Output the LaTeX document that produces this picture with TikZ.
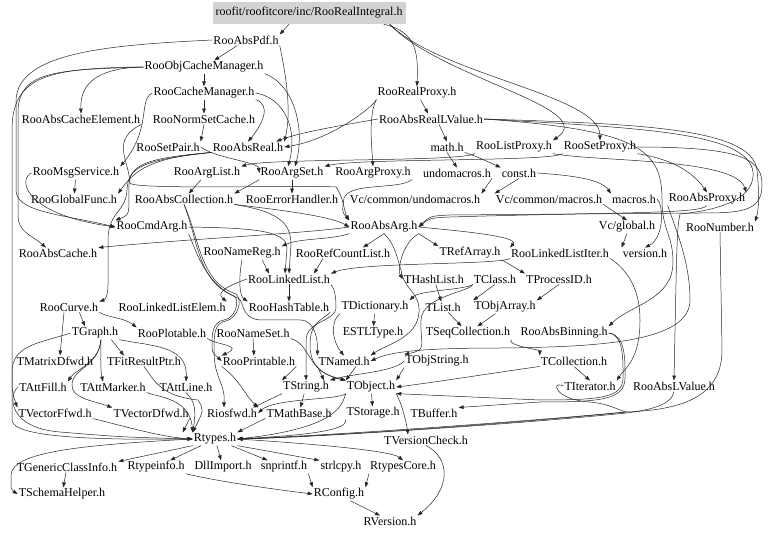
\documentclass[tikz,border=0pt]{standalone}
\usepackage{fontspec}
\setmainfont{Liberation Serif}
\usetikzlibrary{arrows.meta}
\definecolor{rootgray}{RGB}{211,211,211}
\begin{document}
\begin{tikzpicture}[x=1pt,y=-1pt,
  n/.style={inner sep=1pt, font=\fontsize{12}{13}\selectfont},
  rootbox/.style={n, fill=rootgray, minimum width=193pt, minimum height=22pt, inner sep=0pt},
  e/.style={draw=black!85, line width=0.5pt, -{Triangle[length=5pt,width=3.6pt]}}]
\useasboundingbox (0,0) rectangle (768,534);
\fill[white] (0,0) rectangle (768,534);
% nodes
\node[rootbox] (root) at (309,13) {roofit/roofitcore/inc/RooRealIntegral.h};
\node[n] (absPdf) at (246,40) {RooAbsPdf.h};
\node[n] (objCache) at (204,67) {RooObjCacheManager.h};
\node[n] (cacheMgr) at (204,93) {RooCacheManager.h};
\node[n] (realProxy) at (417,93) {RooRealProxy.h};
\node[n] (absCacheEl) at (81,119) {RooAbsCacheElement.h};
\node[n] (normSet) at (204,119) {RooNormSetCache.h};
\node[n] (absRealLV) at (431,119) {RooAbsRealLValue.h};
\node[n] (mathh) at (447,147) {math.h};
\node[n] (listProxy) at (514,147) {RooListProxy.h};
\node[n] (setProxy) at (600,147) {RooSetProxy.h};
\node[n] (setPair) at (168,147) {RooSetPair.h};
\node[n] (absReal) at (248,147) {RooAbsReal.h};
\node[n] (msgSvc) at (76,173) {RooMsgService.h};
\node[n] (argList) at (207,173) {RooArgList.h};
\node[n] (argSet) at (292,173) {RooArgSet.h};
\node[n] (argProxy) at (373,173) {RooArgProxy.h};
\node[n] (undomac) at (457,173) {undomacros.h};
\node[n] (consth) at (519,173) {const.h};
\node[n] (globalFunc) at (74,199) {RooGlobalFunc.h};
\node[n] (absColl) at (184,199) {RooAbsCollection.h};
\node[n] (errHandler) at (292,199) {RooErrorHandler.h};
\node[n] (vcUndo) at (415,199) {Vc/common/undomacros.h};
\node[n] (vcMacros) at (549,199) {Vc/common/macros.h};
\node[n] (macros) at (634,199) {macros.h};
\node[n] (absProxy) at (707,199) {RooAbsProxy.h};
\node[n] (cmdArg) at (152,227) {RooCmdArg.h};
\node[n] (absArg) at (384,227) {RooAbsArg.h};
\node[n] (vcGlobal) at (627,227) {Vc/global.h};
\node[n] (number) at (720,227) {RooNumber.h};
\node[n] (absCache) at (58,253) {RooAbsCache.h};
\node[n] (nameReg) at (242,253) {RooNameReg.h};
\node[n] (refCount) at (343,253) {RooRefCountList.h};
\node[n] (refArray) at (470,253) {TRefArray.h};
\node[n] (llIter) at (560,253) {RooLinkedListIter.h};
\node[n] (version) at (645,253) {version.h};
\node[n] (linkedList) at (289,279) {RooLinkedList.h};
\node[n] (hashList) at (434,279) {THashList.h};
\node[n] (tclass) at (495,279) {TClass.h};
\node[n] (processID) at (559,279) {TProcessID.h};
\node[n] (curve) at (69,307) {RooCurve.h};
\node[n] (llElem) at (172,307) {RooLinkedListElem.h};
\node[n] (hashTable) at (289,307) {RooHashTable.h};
\node[n] (dictionary) at (375,307) {TDictionary.h};
\node[n] (tlist) at (443,307) {TList.h};
\node[n] (objArray) at (505,307) {TObjArray.h};
\node[n] (tgraph) at (95,333) {TGraph.h};
\node[n] (plotable) at (172,333) {RooPlotable.h};
\node[n] (nameSet) at (253,333) {RooNameSet.h};
\node[n] (estl) at (373,333) {ESTLType.h};
\node[n] (seqColl) at (468,333) {TSeqCollection.h};
\node[n] (absBinning) at (564,333) {RooAbsBinning.h};
\node[n] (matrixD) at (55,361) {TMatrixDfwd.h};
\node[n] (fitRes) at (144,361) {TFitResultPtr.h};
\node[n] (printable) at (259,361) {RooPrintable.h};
\node[n] (tnamed) at (344,361) {TNamed.h};
\node[n] (objString) at (437,361) {TObjString.h};
\node[n] (tcoll) at (574,361) {TCollection.h};
\node[n] (attFill) at (43,387) {TAttFill.h};
\node[n] (attMarker) at (113,387) {TAttMarker.h};
\node[n] (attLine) at (186,387) {TAttLine.h};
\node[n] (tstring) at (306,387) {TString.h};
\node[n] (tobject) at (371,387) {TObject.h};
\node[n] (titer) at (590,386) {TIterator.h};
\node[n] (absLV) at (674,386) {RooAbsLValue.h};
\node[n] (vecF) at (55,413) {TVectorFfwd.h};
\node[n] (vecD) at (151,413) {TVectorDfwd.h};
\node[n] (riosfwd) at (232,413) {Riosfwd.h};
\node[n] (mathBase) at (299,413) {TMathBase.h};
\node[n] (storage) at (373,413) {TStorage.h};
\node[n] (tbuffer) at (434,413) {TBuffer.h};
\node[n] (rtypes) at (215,439) {Rtypes.h};
\node[n] (versionCheck) at (426,440) {TVersionCheck.h};
\node[n] (genClass) at (67,467) {TGenericClassInfo.h};
\node[n] (rtypeinfo) at (156,467) {Rtypeinfo.h};
\node[n] (dllimport) at (223,467) {DllImport.h};
\node[n] (snprintf) at (284,467) {snprintf.h};
\node[n] (strlcpy) at (341,467) {strlcpy.h};
\node[n] (rtypesCore) at (403,467) {RtypesCore.h};
\node[n] (schema) at (62,494) {TSchemaHelper.h};
\node[n] (rconfig) at (339,494) {RConfig.h};
\node[n] (rversion) at (390,521) {RVersion.h};
% top edges
\draw[e] ([xshift=-20pt]root.south) -- (absPdf.north east);
\draw[e] (absPdf) -- (objCache);
\draw[e] (objCache) -- (cacheMgr);
\draw[e] (cacheMgr) -- (normSet);
\draw[e] ([xshift=-22pt]root.south east) .. controls (418,32) and (418,55) .. (realProxy.north);
\draw[e] ([xshift=-16pt]root.south east) .. controls (440,75) and (600,95) .. (setProxy.north);
\draw[e] ([xshift=-16pt]root.south east) .. controls (440,78) and (600,108) .. (listProxy.north east);
\draw[e] (realProxy) -- (absRealLV);
\draw[e] ([xshift=8pt]absRealLV.south) -- (mathh.north);
\draw[e] (absPdf.south east) .. controls (285,70) and (292,110) .. (absReal.north east);
\draw[e] (objCache.south east) .. controls (295,85) and (305,130) .. ([xshift=3pt]argSet.north);
\draw[e] (cacheMgr.south east) .. controls (272,105) and (262,125) .. (absReal.north);
\draw[e] (cacheMgr.east) .. controls (285,98) and (298,130) .. ([xshift=-4pt]argSet.north);
\draw[e] (objCache.west) .. controls (95,68) and (80,85) .. (absCacheEl.north);
\draw[e] (cacheMgr.west) .. controls (138,100) and (152,128) .. (msgSvc.north east);
\draw[e] (normSet.south) -- (setPair.north east);
\draw[e] (realProxy.south west) .. controls (372,108) and (330,140) .. (absReal.east);
\draw[e] (realProxy.south west) .. controls (368,115) and (372,150) .. (argProxy.north);
\draw[e] (absRealLV.west) .. controls (350,124) and (300,132) .. ([xshift=-8pt]absReal.north east);
\draw[e] (absRealLV.east) .. controls (640,124) and (752,128) .. (757,170) .. controls (760,200) and (758,212) .. (number.north east);
\draw[e] (absRealLV.east) .. controls (640,128) and (748,132) .. (753,172) .. controls (756,205) and (700,212) .. (680,214) .. controls (677,230) .. (absLV.north);
\draw[e] (setProxy.south east) .. controls (665,158) and (690,168) .. (absProxy.north);
\draw[e] (listProxy.south east) .. controls (600,162) and (735,158) .. (absProxy.north east);
\draw[e] (setProxy.south west) .. controls (550,162) and (360,158) .. (argSet.north east);
\draw[e] (listProxy.south west) .. controls (460,162) and (270,158) .. (argList.north east);
\draw[e] (setProxy.east) .. controls (745,147) and (762,160) .. (762,185) .. controls (762,212) and (740,213) .. (700,213) -- (450,215) .. controls (430,216) .. (absArg.east);
\draw[e] (absProxy.south) .. controls (700,214) and (620,212) .. (450,217) .. controls (430,218) .. (absArg.east);
\draw[e] (absRealLV.east) .. controls (640,130) and (662,150) .. (662,200) .. controls (662,230) and (673,235) .. (673,262) .. controls (673,300) and (630,305) .. (absBinning.north east);
% Vc
\draw[e] (mathh.south east) .. controls (480,158) .. (consth.north west);
\draw[e] (mathh.south) -- (undomac.north);
\draw[e] (undomac.south east) -- (vcUndo.north east);
\draw[e] (consth.south) -- (vcMacros.north west);
\draw[e] (consth.east) .. controls (565,175) and (600,178) .. (macros.north west);
\draw[e] (vcMacros.south east) -- (vcGlobal.north);
\draw[e] (vcGlobal.south) -- (version.north west);
\draw[e] (macros.east) .. controls (664,205) and (664,238) .. (version.north);
% middle
\draw[e] (argList) -- (absColl);
\draw[e] (argSet.south west) -- (absColl.north east);
\draw[e] (argSet) -- (errHandler);
\draw[e] (absReal.south west) .. controls (150,158) and (135,170) .. (globalFunc.north east);
\draw[e] (absReal.south west) .. controls (145,158) and (130,165) .. (129,185) .. controls (128,212) and (132,214) .. (cmdArg.north west);
\draw[e] (msgSvc) -- (globalFunc);
\draw[e] (msgSvc.west) .. controls (18,178) and (22,214) .. (cmdArg.west);
\draw[e] (absColl.south east) .. controls (280,210) and (330,216) .. (absArg.west);
\draw[e] (absColl.south east) .. controls (282,212) and (291,225) .. (291,245) -- (linkedList.north);
\draw[e] (absArg.east) .. controls (450,230) and (520,236) .. (llIter.north west);
\draw[e] (absArg.south east) -- (refArray.north west);
\draw[e] (absArg.south east) .. controls (400,245) and (398,272) .. (hashList.west);
\draw[e] (absArg.south) -- ([xshift=20pt]refCount.north);
\draw[e] (absArg.south west) .. controls (330,240) and (300,238) .. (nameReg.north east);
\draw[e] (absArg.west) .. controls (300,234) and (200,238) .. (absCache.north east);
\draw[e] (cmdArg.east) .. controls (250,228) and (287,230) .. (287,248) -- ([xshift=-4pt]linkedList.north);
\draw[e] ([xshift=-20pt]refCount.south) -- ([xshift=25pt]linkedList.north);
\draw[e] ([xshift=20pt]nameReg.south) -- ([xshift=-20pt]linkedList.north);
\draw[e] (nameReg.south) .. controls (238,282) and (240,296) .. (hashTable.north west);
\draw[e] (linkedList) -- (hashTable);
\draw[e] (linkedList.west) .. controls (230,285) and (215,292) .. (llElem.north east);
\draw[e] (llIter.south west) .. controls (500,265) and (360,262) .. (linkedList.north east);
\draw[e] (llIter.south east) .. controls (628,270) and (640,290) .. (640,320) .. controls (640,360) and (625,368) .. (titer.north east);
% right middle
\draw[e] (hashList) -- (tlist);
\draw[e] (tlist) -- (seqColl);
\draw[e] (objArray) -- (seqColl);
\draw[e] (processID.south) -- (objArray.north east);
\draw[e] (refArray.south east) -- (processID.north west);
\draw[e] (tclass.south west) .. controls (465,290) and (420,290) .. (dictionary.north east);
\draw[e] (tclass.south) -- (objArray.north west);
\draw[e] (tclass.south west) .. controls (470,292) and (422,296) .. (421,320) .. controls (420,345) and (428,350) .. (objString.north west);
\draw[e] (seqColl.south east) .. controls (505,345) and (540,350) .. (tcoll.north west);
\draw[e] (dictionary) -- (estl);
\draw[e] (dictionary.south west) .. controls (332,318) and (330,338) .. (tnamed.north);
\draw[e] (tcoll.south west) .. controls (500,372) and (430,383) .. (tobject.east);
\draw[e] (tcoll.south) -- (titer.north);
\draw[e] (objString.south west) -- (tobject.north east);
\draw[e] (objString.west) .. controls (395,372) and (350,374) .. (tstring.north east);
\draw[e] ([xshift=12pt]tnamed.south) -- (tobject.north west);
\draw[e] (tnamed.south west) -- ([xshift=-6pt]tstring.north east);
\draw[e] (printable.south east) -- (tstring.north west);
\draw[e] (printable.south west) .. controls (240,380) and (245,395) .. (riosfwd.north east);
\draw[e] (tstring) -- (mathBase);
\draw[e] (tstring.south west) -- ([xshift=-5pt]riosfwd.north east);
\draw[e] (tobject.south west) .. controls (340,400) and (275,398) .. (riosfwd.east);
\draw[e] (tobject) -- (storage);
\draw[e] (tobject.south east) .. controls (402,405) and (406,420) .. ([xshift=-18pt]versionCheck.north);
\draw[e] (tobject.south west) .. controls (342,405) and (338,428) .. (rtypes.east);
\draw[e] (storage.south west) .. controls (350,432) and (290,436) .. (rtypes.east);
\draw[e] (mathBase.south west) -- (rtypes.north east);
% left groups
\draw[e] ([xshift=-20pt]curve.south east) -- ([xshift=-10pt]tgraph.north);
\draw[e] (curve.south east) .. controls (110,318) and (125,318) .. (plotable.north west);
\draw[e] ([xshift=-5pt]curve.south) -- ([xshift=5pt]matrixD.north);
\draw[e] ([xshift=-8pt]tgraph.south east) -- ([xshift=-20pt]fitRes.north);
\draw[e] ([xshift=6pt]tgraph.south) .. controls (101,352) and (100,368) .. ([xshift=-10pt]attMarker.north);
\draw[e] ([xshift=6pt]tgraph.south) .. controls (100,362) and (75,370) .. (attFill.north east);
\draw[e] (tgraph.south east) .. controls (150,346) and (188,345) .. (attLine.north);
\draw[e] (tgraph.west) .. controls (40,343) and (12,345) .. (12,372) .. controls (12,392) .. (vecF.north west);
\draw[e] ([xshift=6pt]tgraph.south) .. controls (98,368) and (72,368) .. (72,385) .. controls (72,398) and (90,400) .. (vecD.north west);
\draw[e] (fitRes.south) .. controls (154,380) and (160,396) .. (198,400) .. controls (204,410) .. (rtypes.north west);
\draw[e] (attLine.south) .. controls (190,398) and (198,402) .. (rtypes.north west);
\draw[e] (attMarker.south east) .. controls (155,397) and (190,397) .. (rtypes.north west);
\draw[e] (vecF.south east) .. controls (120,425) and (160,437) .. (rtypes.west);
\draw[e] (vecD.south east) -- ([xshift=-10pt]rtypes.north west);
\draw[e] (attFill.west) .. controls (8,395) and (8,428) .. (60,432) .. controls (120,437) .. (rtypes.west);
\draw[e] (plotable.south east) .. controls (215,345) and (245,345) .. (printable.north west);
\draw[e] (nameSet.south) -- ([xshift=-5pt]printable.north);
\draw[e] (nameSet.south east) .. controls (312,345) and (306,372) .. (tobject.north west);
% bundles
\draw[e] (absColl.south) .. controls (198,240) and (198,282) .. (234,296) .. controls (240,300) and (236,318) .. (224,320) .. controls (212,322) and (212,335) .. (212,345) .. controls (212,352) .. (printable.west);
\draw[e] (absColl.south) .. controls (200,240) and (200,282) .. (236,294) .. controls (243,300) and (238,318) .. (226,321) .. controls (214,323) and (214,335) .. (214,350) .. controls (214,375) and (222,380) .. (224,395) -- ([xshift=-8pt]riosfwd.north);
\draw[e] (cmdArg.south east) .. controls (196,250) and (205,285) .. (238,298) .. controls (245,302) and (240,318) .. (260,320) -- (300,320) .. controls (315,320) and (318,340) .. (tnamed.north west);
\draw[e] (absArg.south) .. controls (396,245) and (398,262) .. (401,270) .. controls (404,290) and (420,292) .. (419,312) .. controls (418,338) and (385,345) .. (tnamed.north east);
\draw[e] (linkedList.south east) .. controls (334,288) and (336,295) .. (336,307) .. controls (336,322) and (307,320) .. (306,340) -- (tstring.north);
\draw[e] (hashTable.south east) .. controls (318,322) and (310,325) .. (310,345) .. controls (310,372) and (330,376) .. (tobject.north west);
\draw[e] (absProxy.south west) .. controls (676,230) and (690,262) .. (690,300) .. controls (690,342) and (600,347) .. (500,348) .. controls (420,348) and (390,352) .. (tnamed.east);
\draw[e] (absBinning.east) .. controls (624,335) and (623,360) .. (623,378) .. controls (623,398) and (600,400) .. (540,400) -- (tobject.south east);
\draw[e] (absBinning.east) .. controls (626,335) and (625,360) .. (625,378) .. controls (625,400) and (600,402) .. (540,402) -- (tbuffer.north east);
\draw[e] (number.south) -- (722,350) .. controls (722,398) and (680,410) .. (626,412) .. controls (520,422) and (320,436) .. (rtypes.east);
\draw[e] (absLV.south) .. controls (672,405) and (650,410) .. (626,413) .. controls (520,424) and (320,437) .. (rtypes.east);
\draw[e] (titer.west) .. controls (550,380) and (555,400) .. (590,402) .. controls (610,404) and (618,410) .. (626,412) .. controls (520,423) and (320,437) .. (rtypes.east);
% left lane
\draw[e] (absPdf.west) .. controls (110,45) and (18,52) .. (16,100) -- (16,190) .. controls (16,212) and (60,214) .. (cmdArg.west);
\draw[e] (objCache.west) .. controls (60,70) and (20,70) .. (18,110) -- (18,215) .. controls (18,232) and (30,234) .. ([xshift=-12pt]absCache.north);
\draw[e] (objCache.west) .. controls (50,68) and (12,75) .. (12,130) -- (12,420) .. controls (12,438) and (100,440) .. (rtypes.west);
\draw[e] (absCacheEl.south east) .. controls (110,140) and (129,160) .. (130,183) .. controls (132,190) and (300,185) .. (336,187) .. controls (344,198) and (344,212) .. (absArg.north west);
\draw[e] (argProxy.south east) .. controls (400,190) and (350,182) .. (344,198) .. controls (342,212) .. (absArg.north west);
\draw[e] (absReal.south west) .. controls (140,160) and (128,168) .. (127,190) .. controls (126,212) and (108,212) .. (108,240) -- (108,285) .. controls (108,298) and (104,300) .. (curve.north east);
\draw[e] (setPair.east) .. controls (215,158) and (258,162) .. (argSet.west);
% bottom
\draw[e] (rtypes.south west) -- (genClass.north east);
\draw[e] (rtypes) -- (rtypeinfo);
\draw[e] (rtypes) -- (dllimport);
\draw[e] (rtypes) -- (snprintf);
\draw[e] (rtypes.south east) -- (strlcpy.north west);
\draw[e] (rtypes.east) .. controls (300,443) and (390,450) .. (rtypesCore.north);
\draw[e] (genClass) -- (schema);
\draw[e] (rtypeinfo.south east) .. controls (220,482) and (280,490) .. (rconfig.west);
\draw[e] (snprintf.south east) -- (rconfig.north west);
\draw[e] (rtypesCore.south west) -- (rconfig.north east);
\draw[e] ([xshift=-15pt]rconfig.south east) -- ([xshift=-10pt]rversion.north);
\draw[e] (versionCheck.south) .. controls (450,458) and (452,488) .. (rversion.north east);
\draw[e] (rtypes.west) .. controls (80,445) and (12,452) .. (11,475) .. controls (11,490) .. (schema.west);
\end{tikzpicture}
\end{document}
